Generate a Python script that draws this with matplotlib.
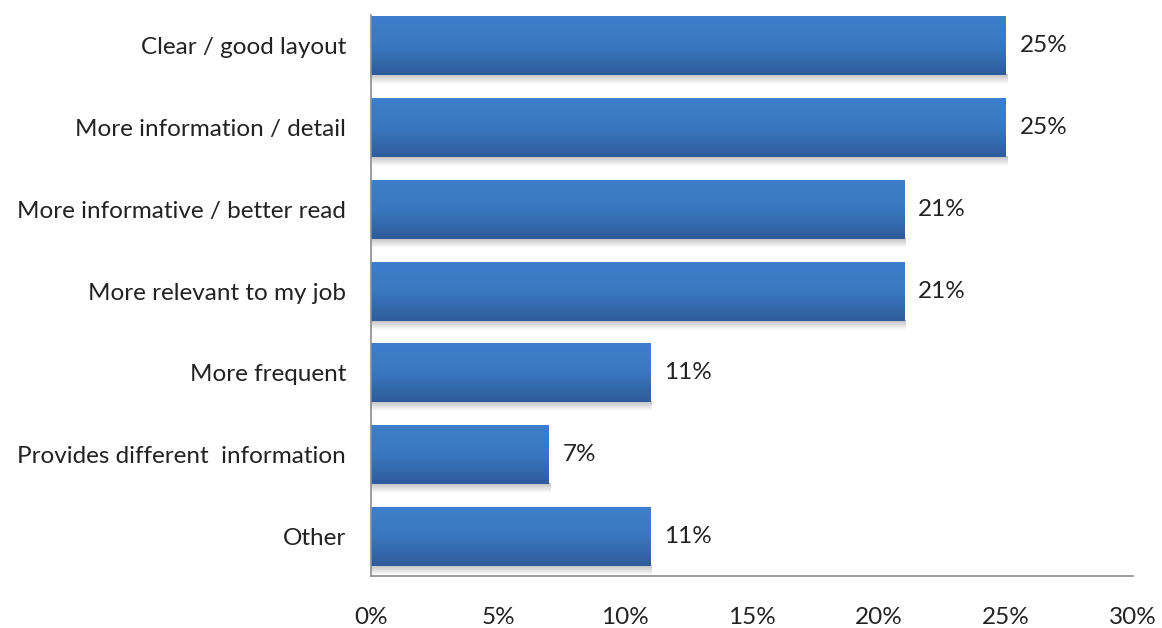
import numpy as np
import matplotlib
matplotlib.use("Agg")
import matplotlib.pyplot as plt
from matplotlib.colors import LinearSegmentedColormap

categories = [
    "Clear / good layout",
    "More information / detail",
    "More informative / better read",
    "More relevant to my job",
    "More frequent",
    "Provides different  information",
    "Other",
]
values = [25, 25, 21, 21, 11, 7, 11]
xticks = [0, 5, 10, 15, 20, 25, 30]

plt.rcParams["font.family"] = ["Lato", "DejaVu Sans"]

fig = plt.figure(figsize=(11.62, 6.28), dpi=100)
ax = fig.add_axes([0.3193, 0.0828, 0.975 - 0.3193, 0.976 - 0.0828])

bar_h = 0.72
ypos = np.arange(len(categories))

bar_cmap = LinearSegmentedColormap.from_list("barfill", ["#3d7fcc", "#3a77c0", "#2e5c9c"])
grad = np.linspace(0, 1, 64).reshape(-1, 1)

shadow = np.zeros((32, 1, 4))
shadow[..., :3] = 0.45
shadow[:, 0, 3] = np.linspace(0.45, 0.0, 32)

for y, v in zip(ypos, values):
    top = y - bar_h / 2
    bot = y + bar_h / 2
    # soft shadow under each bar
    ax.imshow(shadow, extent=(0, v + 0.05, bot + 0.11, bot), aspect="auto",
              interpolation="bilinear", zorder=1)
    ax.imshow(grad, cmap=bar_cmap, extent=(0, v, bot, top), aspect="auto",
              interpolation="bilinear", zorder=2)
    ax.text(v + 0.55, y, f"{v}%", va="center", ha="left", fontsize=17.5, color="#222222")

ax.set_xlim(0, 30)
ax.set_ylim(len(categories) - 1 + bar_h / 2 + 0.12, -bar_h / 2 - 0.01)
ax.set_yticks(ypos)
ax.set_yticklabels(categories, fontsize=17.5, color="#222222")
ax.set_xticks(xticks)
ax.set_xticklabels([f"{t}%" for t in xticks], fontsize=17.5, color="#222222")
ax.tick_params(axis="both", length=0)
ax.tick_params(axis="y", pad=18)
ax.tick_params(axis="x", pad=22)

for s in ["top", "right"]:
    ax.spines[s].set_visible(False)
for s in ["left", "bottom"]:
    ax.spines[s].set_color("#8c8c8c")
    ax.spines[s].set_linewidth(1.2)

fig.savefig("out.png", dpi=100, facecolor="white")
